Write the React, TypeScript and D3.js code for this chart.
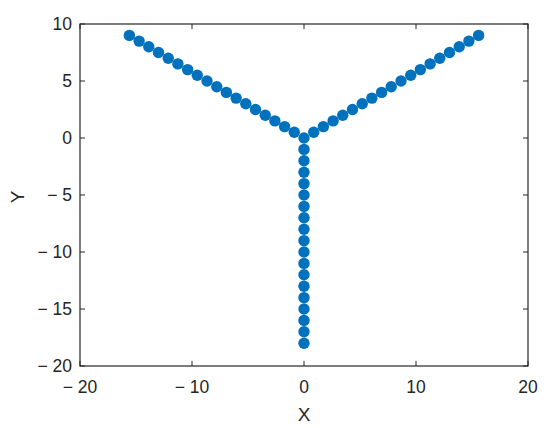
import React from "react";
import * as d3 from "d3";

// values
const armX = [0.87, 1.73, 2.6, 3.46, 4.33, 5.2, 6.06, 6.93, 7.79, 8.66, 9.53, 10.39, 11.26, 12.12, 12.99, 13.86, 14.72, 15.59];
const armY = [0.5, 1, 1.5, 2, 2.5, 3, 3.5, 4, 4.5, 5, 5.5, 6, 6.5, 7, 7.5, 8, 8.5, 9];
const stemY = [0, -1, -2, -3, -4, -5, -6, -7, -8, -9, -10, -11, -12, -13, -14, -15, -16, -17, -18];
const xTicks = [-20, -10, 0, 10, 20];
const yTicks = [-20, -15, -10, -5, 0, 5, 10];

const W = 550;
const H = 428;
const m = { left: 80, top: 24, right: 22, bottom: 62 };

const fmt = (v: number) => (v < 0 ? "\u2212 " + Math.abs(v) : String(v));

export default function App() {
  const x = d3.scaleLinear().domain([-20, 20]).range([m.left, W - m.right]);
  const y = d3.scaleLinear().domain([-20, 10]).range([H - m.bottom, m.top]);

  const points: [number, number][] = [
    ...armX.map((v, i) => [-v, armY[i]] as [number, number]),
    ...armX.map((v, i) => [v, armY[i]] as [number, number]),
    ...stemY.map(v => [0, v] as [number, number])
  ];

  const axisColor = "#262626";
  const font = "'Liberation Sans', Arial, sans-serif";
  const tl = 5;

  return (
    <svg
      width={W}
      height={H}
      style={{ position: "absolute", left: 0, top: 0, background: "#fff" }}
      fontFamily={font}
    >
      <rect
        x={x(-20)}
        y={y(10)}
        width={x(20) - x(-20)}
        height={y(-20) - y(10)}
        fill="#fff"
        stroke={axisColor}
        strokeWidth={1.2}
      />
      {xTicks.map(t => (
        <g key={"x" + t}>
          <line x1={x(t)} x2={x(t)} y1={y(-20)} y2={y(-20) - tl} stroke={axisColor} />
          <line x1={x(t)} x2={x(t)} y1={y(10)} y2={y(10) + tl} stroke={axisColor} />
          <text x={x(t)} y={y(-20) + 27} textAnchor="middle" fontSize={17.5} fill={axisColor}>
            {fmt(t)}
          </text>
        </g>
      ))}
      {yTicks.map(t => (
        <g key={"y" + t}>
          <line x1={x(-20)} x2={x(-20) + tl} y1={y(t)} y2={y(t)} stroke={axisColor} />
          <line x1={x(20)} x2={x(20) - tl} y1={y(t)} y2={y(t)} stroke={axisColor} />
          <text x={x(-20) - 8} y={y(t)} dy="0.36em" textAnchor="end" fontSize={17.5} fill={axisColor}>
            {fmt(t)}
          </text>
        </g>
      ))}
      {points.map((p, i) => (
        <circle key={i} cx={x(p[0])} cy={y(p[1])} r={5.7} fill="#0072BD" />
      ))}
      <text x={x(0)} y={421} textAnchor="middle" fontSize={19} fill={axisColor}>
        X
      </text>
      <text
        transform={`translate(24,${y(-5) + 2}) rotate(-90)`}
        textAnchor="middle"
        fontSize={19}
        fill={axisColor}
      >
        Y
      </text>
    </svg>
  );
}
